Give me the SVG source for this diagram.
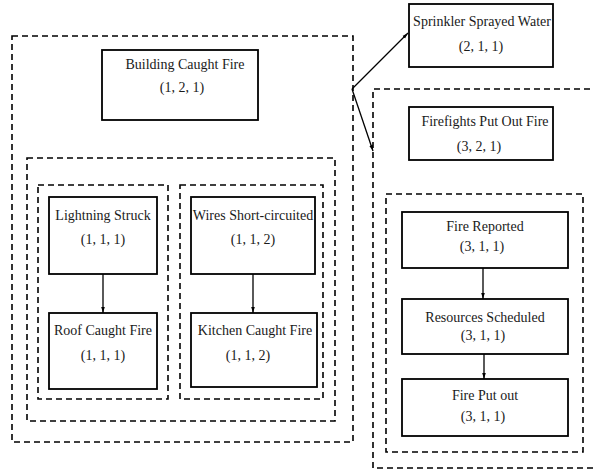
<svg xmlns="http://www.w3.org/2000/svg" width="594" height="470" viewBox="0 0 594 470">
<style>
.grp{fill:none;stroke:#000;stroke-width:1.6;stroke-dasharray:6 4}
.box{fill:#fff;stroke:#000;stroke-width:1.8}
text{font-family:"Liberation Serif","Times New Roman",serif;font-size:14px;fill:#1a1a1a;text-anchor:middle}
.edge{fill:none;stroke:#000;stroke-width:1.3;marker-end:url(#ah)}
</style>
<defs>
<marker id="ah" viewBox="0 0 10 10" refX="10" refY="5" markerWidth="6" markerHeight="6" markerUnits="userSpaceOnUse" orient="auto">
<path d="M0,2 L10,5 L0,8 z" fill="#000"/>
</marker>
</defs>
<g id="groups">
<rect class="grp" x="12" y="36" width="341" height="406"/>
<rect class="grp" x="27" y="158" width="308" height="263"/>
<rect class="grp" x="38" y="185" width="130" height="214"/>
<rect class="grp" x="180" y="185" width="143" height="214"/>
<path class="grp" d="M600,89 H373 V468 H600"/>
<rect class="grp" x="386" y="194" width="197" height="258"/>
</g>
<g id="connectors">
<path class="edge" d="M352,89 L408,33"/>
<path class="edge" d="M352,89 L373,151"/>
<path class="edge" d="M103,274 V313"/>
<path class="edge" d="M253,274 V313"/>
<path class="edge" d="M483,268 V299"/>
<path class="edge" d="M484,354 V379"/>
</g>
<g id="building">
<rect class="box" x="102" y="50" width="156" height="70"/>
<text x="185" y="69">Building Caught Fire</text>
<text x="182" y="92">(1, 2, 1)</text>
</g>
<g id="sprinkler">
<rect class="box" x="409" y="4" width="144" height="63"/>
<text x="482" y="26">Sprinkler Sprayed Water</text>
<text x="481" y="51">(2, 1, 1)</text>
</g>
<g id="firefights">
<rect class="box" x="409" y="107" width="144" height="53"/>
<text x="485" y="126">Firefights Put Out Fire</text>
<text x="479" y="151">(3, 2, 1)</text>
</g>
<g id="lightning">
<rect class="box" x="49" y="197" width="108" height="77"/>
<text x="103" y="220">Lightning Struck</text>
<text x="103" y="244">(1, 1, 1)</text>
</g>
<g id="wires">
<rect class="box" x="191" y="197" width="124" height="77"/>
<text x="253" y="220">Wires Short-circuited</text>
<text x="253" y="244">(1, 1, 2)</text>
</g>
<g id="roof">
<rect class="box" x="49" y="313" width="108" height="76"/>
<text x="103" y="335">Roof Caught Fire</text>
<text x="103" y="360">(1, 1, 1)</text>
</g>
<g id="kitchen">
<rect class="box" x="191" y="313" width="126" height="74"/>
<text x="255" y="335">Kitchen Caught Fire</text>
<text x="248" y="360">(1, 1, 2)</text>
</g>
<g id="reported">
<rect class="box" x="402" y="212" width="166" height="56"/>
<text x="485" y="231">Fire Reported</text>
<text x="482" y="251">(3, 1, 1)</text>
</g>
<g id="resources">
<rect class="box" x="402" y="299" width="166" height="55"/>
<text x="485" y="322">Resources Scheduled</text>
<text x="483" y="340">(3, 1, 1)</text>
</g>
<g id="putout">
<rect class="box" x="402" y="379" width="166" height="57"/>
<text x="485" y="400">Fire Put out</text>
<text x="483" y="421">(3, 1, 1)</text>
</g>
</svg>
